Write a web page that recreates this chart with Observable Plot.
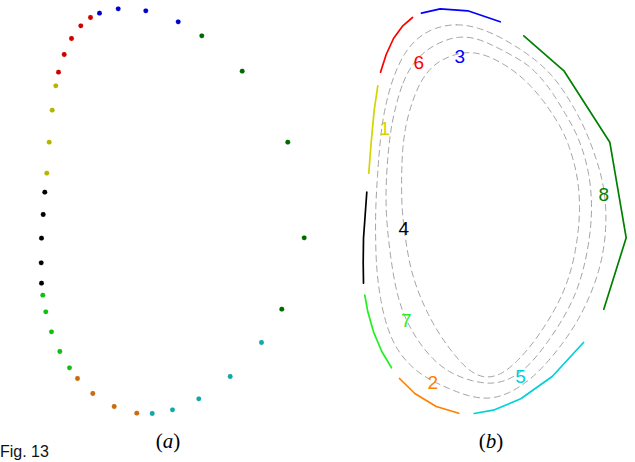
<!DOCTYPE html>
<html>
<head>
<meta charset="utf-8">
<script src="https://cdn.jsdelivr.net/npm/d3@7"></script>
<script src="https://cdn.jsdelivr.net/npm/@observablehq/plot@0.6"></script>
<style>
  html, body { margin: 0; padding: 0; background: #fff; }
  #wrap { position: relative; width: 635px; height: 462px; overflow: hidden; background: #fff; }
  #pa, #pb { position: absolute; top: 0; }
  #pa { left: 0px; }
  #pb { left: 322px; }
  .plab { position: absolute; top: 429px; width: 60px; text-align: center;
          font-family: "Liberation Serif", "DejaVu Serif", serif; font-size: 21px; line-height: 24px; color: #000; }
  .plab i { font-style: italic; }
  #cap { position: absolute; left: 0; top: 444px; font-family: "Liberation Sans", Arial, sans-serif;
         font-size: 16px; line-height: 16px; color: #111; white-space: nowrap; }
</style>
</head>
<body>
<div id="wrap">
  <div id="pa"></div>
  <div id="pb"></div>
  <div class="plab" style="left:138px">(<i>a</i>)</div>
  <div class="plab" style="left:461px">(<i>b</i>)</div>
  <div id="cap">Fig. 13</div>
</div>
<script>
// ---- boundary segments (same points drawn as dots in (a) and as polylines in (b)) ----
const groups = ["1", "2", "3", "4", "5", "6", "7", "8"];
const seg1 = [[55.3, 85.3], [51.7, 109.7], [48.7, 141.7], [46.3, 172.7]];                       // yellow
const seg2 = [[77, 378], [92.3, 393], [113.7, 406], [136.3, 412.7]];                           // orange
const seg3 = [[99, 12.7], [117.7, 8.3], [145.3, 10.3], [177.7, 21.3]];                         // blue
const seg4 = [[44.3, 191.7], [42.7, 214], [41, 237.7], [40.7, 262.3], [41, 282.7]];            // black
const seg5 = [[151.7, 413], [172, 409.3], [198.3, 398.3], [229.7, 376], [261, 342]];           // cyan
const seg6 = [[58, 71.7], [63.7, 54], [71, 38], [80.3, 25.3], [90, 17]];                       // red
const seg7 = [[42.3, 294.7], [45.3, 311.3], [51, 331.3], [59.3, 351], [69, 367.3]];            // lime
const seg8 = [[201.3, 35.3], [241.7, 70.7], [287.3, 141.7], [303.7, 237.3], [281.3, 308.7]];   // dark green
const segments = [seg1, seg2, seg3, seg4, seg5, seg6, seg7, seg8];

const dotColors  = ["#b5b500", "#cc6a10", "#0000d0", "#000000", "#10a8a8", "#d00000", "#10c010", "#006a00"];
const lineColors = ["#d4d400", "#ff8000", "#0000ff", "#000000", "#00d0d8", "#ff0000", "#22f022", "#008000"];

// ---- segment number labels in (b) ----
const labelText = ["6", "3", "1", "8", "4", "7", "2", "5"];
const labelX    = [96.3, 137.3, 62.3, 281.3, 81.3, 83.7, 110.3, 198];
const labelY    = [61, 55, 127, 193, 227, 319.3, 381.7, 375];

// ---- dashed inner contours in (b) (control points of smooth closed curves) ----
const contourOuter = [[112,27],[134,23],[156,27],[177,36],[197,48],[214,60],[229,74],[241,90],[252,108],[262,127],[271,150],[280,178],[284,207],[283,240],[277,270],[267,297],[255,321],[241,342],[225,362],[207,380],[187,393],[167,399],[146,396],[126,388],[104,378],[86,364],[73,347],[64,326],[58,300],[54,270],[53,240],[53,207],[55,175],[57,147],[60,120],[65,96],[72,73],[82,52],[95,37]];
const contourMiddle = [[74,103],[80,82],[90,63],[104,49],[121,40],[136,36],[152,37],[169,44],[186,53],[206,64],[221,80],[232,95],[242,112],[251,127],[259,145],[267,173],[270,207],[267,240],[261,270],[252,297],[239,321],[225,342],[208,364],[190,378],[171,384],[150,381],[128,373],[110,359],[95,340],[83,319],[75,296],[70,270],[66,240],[63,207],[64,173],[66,148],[69,124]];
const contourInner = [[89,103],[98,80],[111,64],[126,56],[140,52],[152,52],[164,55],[177,61],[194,72],[208,85],[220,99],[229,112],[238,126],[246,143],[255,173],[258,207],[255,240],[249,270],[239,297],[226,320],[212,341],[195,361],[178,375],[161,378],[146,370],[133,356],[118,336],[105,313],[95,290],[88,268],[83,240],[79,207],[79,173],[80,148],[83,125]];

// ---- tables built from the arrays ----
const pts = segments.flatMap((s, i) => s.map(([x, y]) => ({g: groups[i], x, y})));
const labels = labelText.map((t, i) => ({t, x: labelX[i], y: labelY[i]}));
const contours = [contourOuter, contourMiddle, contourInner]
  .flatMap((c, i) => c.map(([x, y]) => ({c: i, x, y})));

const W = 313, H = 425;
const base = {
  width: W, height: H, margin: 0,
  style: {background: "transparent", overflow: "visible"},
  x: {domain: [0, W], range: [0, W], axis: null},
  y: {domain: [0, H], range: [0, H], axis: null}
};

const plotA = Plot.plot({
  ...base,
  color: {domain: groups, range: dotColors},
  marks: [
    Plot.dot(pts, {x: "x", y: "y", fill: "g", r: 2.4, stroke: "g", strokeWidth: 0.3, strokeOpacity: 0.5})
  ]
});

const plotB = Plot.plot({
  ...base,
  color: {domain: groups, range: lineColors},
  marks: [
    Plot.line(contours, {x: "x", y: "y", z: "c", curve: "basis-closed",
      stroke: "#9a9a9a", strokeWidth: 0.9, strokeDasharray: "6,4.5"}),
    Plot.line(pts, {x: "x", y: "y", z: "g", stroke: "g", strokeWidth: 1.7}),
    Plot.text(labels, {x: "x", y: "y", text: "t", fill: "t", fontSize: 19,
      fontFamily: "Liberation Sans, Arial, sans-serif", textAnchor: "middle", dy: 1})
  ]
});

document.getElementById("pa").appendChild(plotA);
document.getElementById("pb").appendChild(plotB);
</script>
</body>
</html>
